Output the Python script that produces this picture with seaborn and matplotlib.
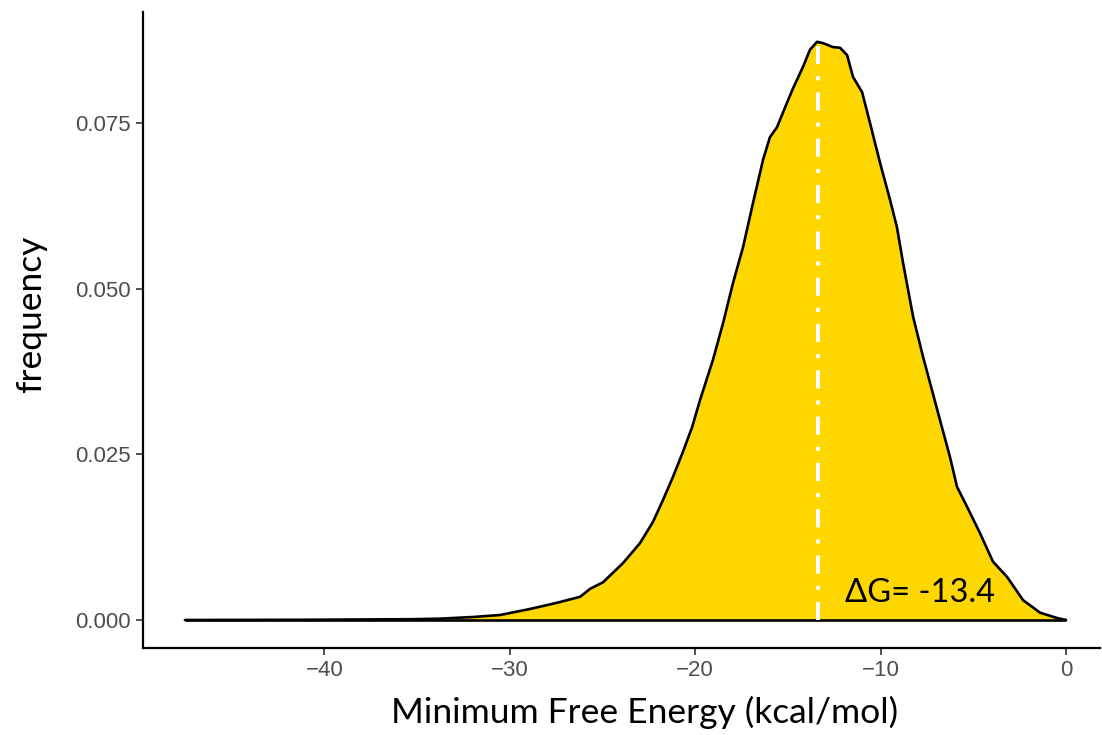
import numpy as np
import pandas as pd
import matplotlib
matplotlib.use("Agg")
import matplotlib.pyplot as plt
import seaborn as sns

# Kernel density of minimum free energy (kcal/mol)
energy = [-47.52, -41.32, -35.22, -33.76, -31.98, -30.53, -28.91, -27.45,
          -26.21, -25.67, -24.97, -23.89, -22.98, -22.28, -21.74, -21.20,
          -20.66, -20.17, -19.74, -19.04, -18.50, -17.96, -17.42, -16.88,
          -16.34, -15.97, -15.59, -15.05, -14.72, -14.19, -13.81, -13.43,
          -13.11, -12.57, -12.19, -11.81, -11.49, -11.00, -10.57, -10.03,
          -9.49, -9.12, -8.79, -8.25, -7.71, -7.23, -6.80, -6.26, -5.88,
          -5.34, -4.64, -3.94, -3.18, -2.32, -1.40, -0.49, 0.0]
density = [0.0, 0.00003, 0.00012, 0.0002, 0.00045, 0.00075, 0.00166, 0.0026,
           0.0035, 0.0047, 0.0057, 0.0086, 0.0116, 0.0148, 0.0181, 0.0216,
           0.0254, 0.0291, 0.0332, 0.0393, 0.0448, 0.0509, 0.0563, 0.0630,
           0.0695, 0.0729, 0.0744, 0.0781, 0.0803, 0.0835, 0.0861, 0.0873,
           0.0871, 0.0865, 0.0864, 0.0853, 0.0820, 0.0797, 0.0750, 0.0690,
           0.0634, 0.0593, 0.0539, 0.0458, 0.0397, 0.0347, 0.0302, 0.0246,
           0.0201, 0.0171, 0.0131, 0.0088, 0.0065, 0.0030, 0.0011, 0.0003,
           0.0]

mfe_mode = -13.4
mode_height = 0.0873

x_ticks = [-40, -30, -20, -10, 0]
y_ticks = [0.000, 0.025, 0.050, 0.075]
y_tick_labels = ["0.000", "0.025", "0.050", "0.075"]

df = pd.DataFrame({"energy": energy, "density": density})

sns.set_theme(style="white")
plt.rcParams["font.family"] = ["Liberation Sans", "DejaVu Sans"]
plt.rcParams["axes.unicode_minus"] = True

fig = plt.figure(figsize=(11.02, 7.35), dpi=100)
ax = fig.add_axes([143 / 1102, 1 - 648 / 735, (1100 - 143) / 1102, (648 - 12) / 735])

ax.fill_between(df["energy"], df["density"], 0, color="#FFD700", lw=0, zorder=1)
sns.lineplot(data=df, x="energy", y="density", ax=ax, color="black",
             lw=1.9, sort=False, zorder=2)
ax.lines[-1].set_solid_joinstyle("round")
ax.plot([energy[0], energy[-1]], [0, 0], color="black", lw=1.9, zorder=2,
        solid_capstyle="butt")

ax.plot([mfe_mode, mfe_mode], [0, mode_height], color="white", lw=2.9,
        dashes=(4.5, 3, 1, 3), zorder=3)

label_font = ["Lato", "DejaVu Sans"]
ax.text(-7.9, 0.0041, f"\u0394G= {mfe_mode}", fontsize=23.5, family=label_font,
        ha="center", va="center", color="black", zorder=4)

ax.set_xlim(-49.78, 1.83)
ax.set_ylim(-0.00423, 0.0918)
ax.set_xticks(x_ticks)
ax.set_yticks(y_ticks)
ax.set_yticklabels(y_tick_labels)
ax.tick_params(axis="both", which="major", length=5, width=1.2, color="#333333",
               labelsize=16, labelcolor="#4D4D4D", pad=4, left=True, bottom=True)

ax.set_xlabel("Minimum Free Energy (kcal/mol)", fontsize=25.5, family=label_font,
              color="black", labelpad=10)
ax.set_ylabel("frequency", fontsize=25.5, family=label_font, color="black", labelpad=20)
ax.xaxis.label.set_x(0.5246)
ax.yaxis.label.set_y(0.525)

for side in ["top", "right"]:
    ax.spines[side].set_visible(False)
for side in ["left", "bottom"]:
    ax.spines[side].set_color("black")
    ax.spines[side].set_linewidth(1.6)

fig.savefig("out.png", dpi=100)
